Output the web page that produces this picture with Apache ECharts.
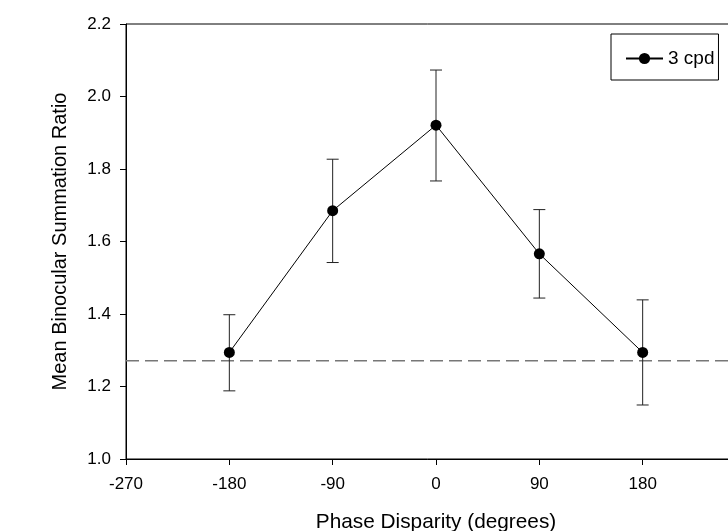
<!DOCTYPE html>
<html>
<head>
<meta charset="utf-8">
<script src="https://cdn.jsdelivr.net/npm/echarts@6/dist/echarts.min.js"></script>
<style>html,body{margin:0;padding:0;background:#fff}#c{width:728px;height:531px}</style>
</head>
<body>
<div id="c"></div>
<script>
var phases = [-180, -90, 0, 90, 180];
var means = [1.294, 1.685, 1.921, 1.566, 1.294];
var upper = [1.398, 1.827, 2.073, 1.688, 1.439];
var lower = [1.188, 1.542, 1.767, 1.444, 1.149];
var baselineValue = 1.271;
var xRange = [-270, 270];
var yRange = [1.0, 2.2];
var seriesName = '3 cpd';

var FONT = '"Liberation Sans", Arial, sans-serif';
var chart = echarts.init(document.getElementById('c'), null, {renderer: 'canvas'});

var meanData = phases.map(function (p, i) { return [p, means[i]]; });
var errData = phases.map(function (p, i) { return [p, lower[i], upper[i]]; });
var baseData = xRange.map(function (x) { return [x, baselineValue]; });

chart.setOption({
  animation: false,
  backgroundColor: '#fff',
  grid: {left: 126, top: 24, width: 620, height: 435, show: true, borderColor: '#000', borderWidth: 1,
    backgroundColor: 'transparent', containLabel: false, outerBoundsMode: 'none'},
  legend: {
    left: 611, top: 34,
    orient: 'vertical',
    data: [seriesName],
    borderColor: '#000', borderWidth: 1,
    padding: [15, 4, 12, 14],
    itemWidth: 37, itemHeight: 14,
    textStyle: {fontFamily: FONT, fontSize: 19, color: '#000'}
  },
  xAxis: {
    type: 'value', min: xRange[0], max: xRange[1], interval: 90,
    name: 'Phase Disparity (degrees)', nameLocation: 'middle', nameGap: 53,
    nameTextStyle: {fontFamily: FONT, fontSize: 20.8, color: '#000'},
    axisLine: {show: true, onZero: false, lineStyle: {color: '#000', width: 1}},
    axisTick: {show: true, length: 6, inside: false, lineStyle: {color: '#000'}},
    axisLabel: {fontFamily: FONT, fontSize: 17, color: '#000', margin: 17},
    splitLine: {show: false}
  },
  yAxis: {
    type: 'value', min: yRange[0], max: yRange[1], interval: 0.2,
    name: 'Mean Binocular Summation Ratio', nameLocation: 'middle', nameGap: 56,
    nameTextStyle: {fontFamily: FONT, fontSize: 20, color: '#000'},
    axisLine: {show: true, onZero: false, lineStyle: {color: '#000', width: 1}},
    axisTick: {show: true, length: 6, inside: false, lineStyle: {color: '#000'}},
    axisLabel: {fontFamily: FONT, fontSize: 17, color: '#000', margin: 15,
      formatter: function (v) { return v.toFixed(1); }},
    splitLine: {show: false}
  },
  series: [
    {
      type: 'line', name: 'baseline', data: baseData, symbol: 'none', silent: true,
      lineStyle: {color: '#777', width: 1.5, type: [13, 6]}, z: 1
    },
    {
      type: 'custom', name: 'err', data: errData, z: 2,
      renderItem: function (params, api) {
        var x = api.value(0);
        var lo = api.coord([x, api.value(1)]);
        var hi = api.coord([x, api.value(2)]);
        var hw = 6;
        var st = {stroke: '#222', lineWidth: 1};
        return {type: 'group', children: [
          {type: 'line', shape: {x1: lo[0], y1: lo[1], x2: hi[0], y2: hi[1]}, style: st},
          {type: 'line', shape: {x1: lo[0] - hw, y1: lo[1], x2: lo[0] + hw, y2: lo[1]}, style: st},
          {type: 'line', shape: {x1: hi[0] - hw, y1: hi[1], x2: hi[0] + hw, y2: hi[1]}, style: st}
        ]};
      }
    },
    {
      type: 'line', name: seriesName, data: meanData, z: 3,
      symbol: 'circle', symbolSize: 11, showSymbol: true,
      lineStyle: {color: '#000', width: 1},
      itemStyle: {color: '#000'}
    }
  ]
});
</script>
</body>
</html>
